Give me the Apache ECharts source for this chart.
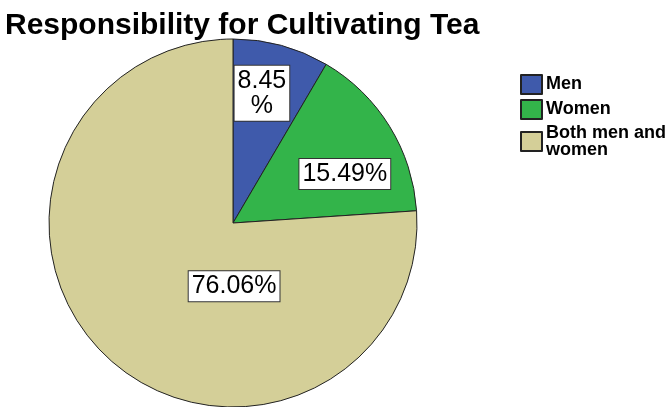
<!DOCTYPE html>
<html>
<head>
<meta charset="utf-8">
<script src="https://cdn.jsdelivr.net/npm/echarts@6/dist/echarts.min.js"></script>
<style>
  html, body { margin: 0; padding: 0; background: #fff; }
  #chart { width: 667px; height: 407px; }
</style>
</head>
<body>
<div id="chart"></div>
<script>
const categories = ['Men', 'Women', 'Both men and women'];
const values = [8.45, 15.49, 76.06];
const colors = ['#3F5AAB', '#33B44A', '#D4CF98'];
const legendText = { 'Men': 'Men', 'Women': 'Women', 'Both men and women': 'Both men and\nwomen' };
// label nudges from the default "inside" spot
const labelShift = [[4, -38], [31, 1], [66, -6]];

const chart = echarts.init(document.getElementById('chart'));

chart.setOption({
    animation: false,
    title: {
        text: 'Responsibility for Cultivating Tea',
        left: 0,
        top: 6,
        textStyle: { fontFamily: 'Liberation Sans', fontWeight: 'bold', fontSize: 30, color: '#000' }
    },
    legend: {
        orient: 'vertical',
        left: 515,
        top: 69,
        itemWidth: 21,
        itemHeight: 19,
        itemGap: 4,
        icon: 'rect',
        formatter: name => legendText[name],
        textStyle: { fontFamily: 'Liberation Sans', fontWeight: 'bold', fontSize: 18, lineHeight: 17, color: '#000', padding: [0, 0, 0, -1] },
        data: categories
    },
    series: [{
        type: 'pie',
        center: [233, 223],
        radius: 184,
        startAngle: 90,
        clockwise: true,
        data: categories.map((c, i) => ({
            name: c,
            value: values[i],
            itemStyle: { color: colors[i] }
        })),
        itemStyle: { borderColor: '#222', borderWidth: 1 },
        label: {
            position: 'inside',
            formatter: p => p.dataIndex === 0 ? p.value.toFixed(2) + '\n%' : p.value.toFixed(2) + '%',
            fontFamily: 'Liberation Sans',
            fontSize: 25,
            lineHeight: 25,
            color: '#000',
            backgroundColor: '#fff',
            borderColor: '#333',
            borderWidth: 1,
            padding: [3, 3, 2, 3]
        },
        labelLine: { show: false },
        labelLayout: p => ({ dx: labelShift[p.dataIndex][0], dy: labelShift[p.dataIndex][1] }),
        emphasis: { disabled: true }
    }]
});
</script>
</body>
</html>
